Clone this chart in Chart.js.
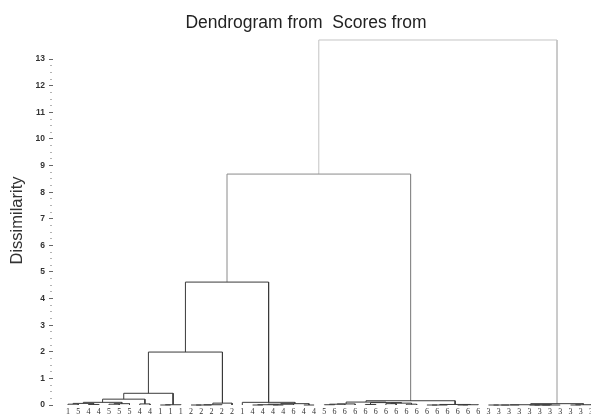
<!DOCTYPE html>
<html>
<head>
<meta charset="utf-8">
<script src="https://cdn.jsdelivr.net/npm/chart.js@4/dist/chart.umd.min.js"></script>
<style>
  html, body { margin: 0; padding: 0; background: #ffffff; }
  #wrap { width: 591px; height: 417px; }
</style>
</head>
<body>
<div id="wrap"><canvas id="c" width="591" height="417"></canvas></div>
<script>
// ---- data (leaf order as drawn, left to right) ----
const leafLabels = ['1','5','4','4','5','5','5','4','4','1','1','1',
  '2','2','2','2','2',
  '1','4','4','4','4','6','4','4',
  '5','6','6','6','6','6','6','6','6','6','6','6','6','6','6','6',
  '3','3','3','3','3','3','3','3','3','3','3'];

// linkage: merge k joins node linkLeft[k] and linkRight[k] at height linkHeight[k]
// node ids < leafLabels.length are leaves; id n+k is the cluster made by merge k
const linkLeft  = [0,2,52,4,55,54,7,57,9,60,59,12,63,64,65,62,18,20,68,70,23,71,17,67,25,76,77,29,31,33,80,79,78,35,85,38,87,86,84,75,41,92,93,45,95,96,94,49,99,98,91];
const linkRight = [1,3,53,5,6,56,8,58,10,11,61,13,14,15,16,66,19,21,69,22,24,72,73,74,26,27,28,30,32,34,81,82,83,36,37,39,40,88,89,90,42,43,44,46,47,48,97,50,51,100,101];
const linkHeight = [0.03,0.02,0.06,0.03,0.05,0.10,0.04,0.22,0,0.01,0.44,0,0,0.01,0.07,1.99,0,0,0.01,0.03,0,0.05,0.10,4.62,0.01,0.03,0.04,0.02,0.05,0.03,0.07,0.09,0.11,0,0,0,0.01,0.02,0.16,8.68,0,0,0,0,0,0,0.01,0,0.01,0.05,13.72];

const yTickMajor = [0,1,2,3,4,5,6,7,8,9,10,11,12,13];

// ---- build node positions from the linkage ----
const n = leafLabels.length;
const nodeX = [], nodeY = [];
for (let i = 0; i < n; i++) { nodeX[i] = i; nodeY[i] = 0; }
linkLeft.forEach((l, k) => {
  const r = linkRight[k];
  nodeX[n + k] = (nodeX[l] + nodeX[r]) / 2;
  nodeY[n + k] = linkHeight[k];
});

function linkColor(h) {
  if (h > 10) return '#c4c4c4';
  if (h > 6) return '#8a8a8a';
  return '#3a3a3a';
}

const datasets = linkLeft.map((l, k) => {
  const r = linkRight[k], h = linkHeight[k];
  return {
    data: [
      {x: nodeX[l], y: nodeY[l]},
      {x: nodeX[l], y: h},
      {x: nodeX[r], y: h},
      {x: nodeX[r], y: nodeY[r]}
    ],
    showLine: true,
    borderColor: linkColor(h),
    borderWidth: 1,
    pointRadius: 0,
    fill: false,
    tension: 0,
    clip: false
  };
});

const titleShift = {
  id: 'titleShift',
  afterLayout(chart) {
    if (chart.titleBlock) { chart.titleBlock.left = 21; }
  }
};

new Chart(document.getElementById('c'), {
  type: 'scatter',
  data: { datasets },
  plugins: [titleShift],
  options: {
    responsive: false,
    animation: false,
    devicePixelRatio: 1,
    layout: { padding: 0 },
    plugins: {
      legend: { display: false },
      tooltip: { enabled: false },
      title: {
        display: true,
        text: 'Dendrogram from  Scores from',
        color: '#222222',
        font: { family: 'Liberation Sans', size: 17.5, weight: 'normal' },
        padding: { top: 12.5, bottom: 2.5 }
      }
    },
    scales: {
      x: {
        type: 'linear',
        min: -1.46,
        max: n - 1,
        border: { display: false },
        grid: { display: false, drawTicks: false },
        afterBuildTicks(scale) {
          scale.ticks = leafLabels.map((_, i) => ({ value: i }));
        },
        afterFit(scale) {
          scale.height = 12;
          scale.paddingLeft = 0;
          scale.paddingRight = 0;
        },
        ticks: {
          autoSkip: false,
          maxRotation: 0,
          minRotation: 0,
          padding: 2,
          color: '#333333',
          font: { family: 'Liberation Serif', size: 8 },
          callback: (v) => leafLabels[v]
        }
      },
      y: {
        type: 'linear',
        min: 0,
        max: 13.87,
        border: { display: false },
        title: {
          display: true,
          text: 'Dissimilarity',
          color: '#333333',
          font: { family: 'Liberation Sans', size: 16.5 },
          padding: { top: 8, bottom: 0 }
        },
        afterBuildTicks(scale) {
          const t = [];
          for (let v = 0; v <= 13 * 4; v++) t.push({ value: v / 4 });
          scale.ticks = t;
        },
        afterFit(scale) {
          scale.width = 53;
          scale.paddingTop = 0;
          scale.paddingBottom = 0;
        },
        grid: {
          drawOnChartArea: false,
          drawTicks: true,
          tickLength: 4,
          tickWidth: 1,
          tickColor: '#666666',
          tickBorderDash: (ctx) => (yTickMajor.includes(ctx.tick && ctx.tick.value) ? [] : [1, 10]),
          tickBorderDashOffset: (ctx) => (yTickMajor.includes(ctx.tick && ctx.tick.value) ? 0 : -1.5)
        },
        ticks: {
          autoSkip: false,
          padding: 4,
          color: '#333333',
          font: { family: 'Liberation Sans', size: 8.5, weight: 'bold' },
          callback: (v) => (yTickMajor.includes(v) ? String(v) : '')
        }
      }
    }
  }
});
</script>
</body>
</html>
